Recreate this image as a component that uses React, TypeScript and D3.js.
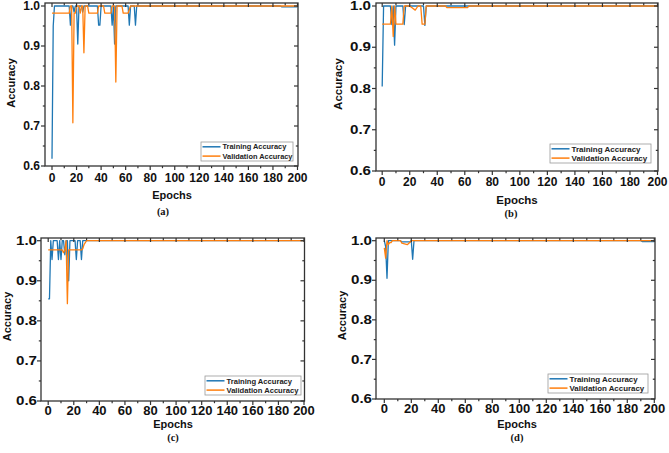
import React, { useEffect, useRef } from 'react';
import * as d3 from 'd3';

type Pt = [number, number];

// epoch / accuracy pairs (flat stretches are kept as their end points)
const trainA: Pt[] = [
  [0, 0.618], [1, 0.95], [2, 1.0], [14, 1.0], [15, 0.952], [16, 1.0], [17, 1.0], [18, 0.985],
  [19, 1.0], [20, 1.0], [21, 0.905], [22, 1.0], [24, 1.0], [25, 0.985], [26, 1.0], [37, 1.0],
  [38, 0.952], [39, 0.952], [40, 1.0], [48, 1.0], [49, 0.952], [50, 1.0], [51, 0.905], [52, 1.0],
  [62, 1.0], [63, 0.952], [64, 1.0], [67, 1.0], [68, 0.952], [69, 1.0], [186, 1.0], [187, 0.998],
  [200, 0.998],
];
const valA: Pt[] = [
  [0, 0.982], [14, 0.982], [15, 1.0], [16, 1.0], [17, 0.708], [18, 0.982], [19, 0.982], [20, 1.0],
  [22, 1.0], [23, 0.982], [24, 1.0], [25, 1.0], [26, 0.883], [27, 1.0], [29, 1.0], [30, 0.982],
  [37, 0.982], [38, 1.0], [42, 1.0], [43, 0.982], [48, 0.982], [49, 1.0], [51, 1.0], [52, 0.81],
  [53, 1.0], [57, 1.0], [58, 0.982], [62, 0.982], [64, 1.0], [200, 1.0],
];

const trainB: Pt[] = [
  [0, 0.805], [1, 1.0], [6, 1.0], [7, 0.955], [8, 1.0], [9, 0.905], [10, 1.0], [15, 1.0],
  [16, 0.955], [17, 1.0], [30, 1.0], [31, 0.953], [32, 1.0], [200, 1.0],
];
const valB: Pt[] = [
  [0, 0.956], [6, 0.956], [7, 1.0], [8, 0.926], [9, 1.0], [10, 0.956], [15, 0.956], [16, 1.0],
  [20, 1.0], [24, 0.99], [26, 1.0], [28, 1.0], [29, 0.956], [31, 0.956], [32, 1.0], [46, 1.0],
  [47, 0.996], [62, 0.996], [63, 1.0], [200, 1.0],
];

const trainC: Pt[] = [
  [0, 0.855], [1, 0.855], [2, 1.0], [3, 0.953], [4, 1.0], [7, 1.0], [8, 0.953], [9, 1.0],
  [10, 0.953], [11, 1.0], [12, 1.0], [13, 0.965], [14, 1.0], [15, 1.0], [16, 0.9], [17, 1.0],
  [21, 1.0], [22, 0.953], [23, 1.0], [25, 1.0], [26, 0.953], [27, 1.0], [200, 1.0],
];
const valC: Pt[] = [
  [0, 0.977], [11, 0.977], [12, 0.97], [13, 0.977], [14, 1.0], [15, 0.843], [16, 0.977],
  [26, 0.977], [27, 0.98], [28, 0.99], [30, 1.0], [200, 1.0],
];

const trainD: Pt[] = [
  [0, 1.0], [1, 0.985], [2, 0.905], [3, 1.0], [12, 1.0], [13, 0.997], [19, 0.997], [20, 1.0],
  [21, 0.953], [22, 1.0], [190, 1.0], [191, 0.998], [200, 0.998],
];
const valD: Pt[] = [
  [0, 0.982], [1, 0.956], [2, 1.0], [3, 0.99], [4, 0.995], [5, 0.995], [6, 1.0], [12, 1.0],
  [13, 0.994], [17, 0.99], [19, 0.996], [20, 1.0], [200, 1.0],
];

const xTicks = [0, 20, 40, 60, 80, 100, 120, 140, 160, 180, 200];
const xMinorTicks = [10, 30, 50, 70, 90, 110, 130, 150, 170, 190];
const yTicks = [0.6, 0.7, 0.8, 0.9, 1.0];
const yMinorTicks = [0.65, 0.75, 0.85, 0.95];
const seriesNames = ['Training Accuracy', 'Validation Accuracy'];
const captions = ['(a)', '(b)', '(c)', '(d)'];

const series: Pt[][][] = [
  [trainA, valA],
  [trainB, valB],
  [trainC, valC],
  [trainD, valD],
];

const colors = ['#1f77b4', '#ff7f0e'];
const sans = '"Liberation Sans", Arial, sans-serif';
const serif = '"Liberation Serif", "Times New Roman", serif';

interface Layout {
  left: number; right: number; top: number; bottom: number;
  x0: number; x200: number; y1: number;
  tickFont: number; yLabelLen: number | null; yLabelGap: number;
  xLabelY: number; titleFont: number; epochsX: number; epochsY: number;
  accX: number; accY: number; capX: number; capY: number;
  legX: number; legY: number; legW: number; legFont: number;
}

const layouts: Layout[] = [
  { left: 45, right: 298, top: 3, bottom: 166, x0: 52, x200: 297.5, y1: 6,
    tickFont: 12, yLabelLen: null, yLabelGap: 5, xLabelY: 182, titleFont: 11,
    epochsX: 172, epochsY: 199, accX: 14.5, accY: 83, capX: 163, capY: 214.5,
    legX: 201, legY: 142, legW: 92, legFont: 7.4 },
  { left: 376, right: 658, top: 3, bottom: 171, x0: 382.2, x200: 657.5, y1: 6,
    tickFont: 12, yLabelLen: 21, yLabelGap: 5, xLabelY: 186, titleFont: 11.5,
    epochsX: 517, epochsY: 204, accX: 342, accY: 84, capX: 511, capY: 216.5,
    legX: 550, legY: 144, legW: 101, legFont: 8 },
  { left: 41, right: 304.5, top: 238, bottom: 401, x0: 48.2, x200: 304, y1: 240.7,
    tickFont: 13, yLabelLen: 21, yLabelGap: 4, xLabelY: 414.5, titleFont: 11,
    epochsX: 173, epochsY: 428, accX: 10.5, accY: 316.5, capX: 173, capY: 440.5,
    legX: 205, legY: 376, legW: 96, legFont: 7.6 },
  { left: 376, right: 655, top: 238, bottom: 399, x0: 384.3, x200: 654.3, y1: 240.7,
    tickFont: 13, yLabelLen: 21, yLabelGap: 4, xLabelY: 413, titleFont: 11,
    epochsX: 517, epochsY: 428, accX: 345.5, accY: 315.5, capX: 517, capY: 441,
    legX: 548, legY: 374, legW: 100, legFont: 7.9 },
];

export default function App() {
  const svgRef = useRef<SVGSVGElement>(null);

  useEffect(() => {
    if (!svgRef.current) return;
    const svg = d3.select(svgRef.current);
    svg.selectAll('*').remove();

    layouts.forEach((p, i) => {
      const x = d3.scaleLinear().domain([0, 200]).range([p.x0, p.x200]);
      const y = d3.scaleLinear().domain([0.6, 1.0]).range([p.bottom, p.y1]);
      const g = svg.append('g');

      const clipId = `clip-${i}`;
      g.append('clipPath').attr('id', clipId)
        .append('rect')
        .attr('x', p.left).attr('y', p.top)
        .attr('width', p.right - p.left).attr('height', p.bottom - p.top);

      const line = d3.line<Pt>().x(d => x(d[0])).y(d => y(d[1]));

      // training first, validation on top
      series[i].forEach((s, k) => {
        g.append('path')
          .datum(s)
          .attr('d', line)
          .attr('fill', 'none')
          .attr('stroke', colors[k])
          .attr('stroke-width', 1.3)
          .attr('stroke-linejoin', 'round')
          .attr('clip-path', `url(#${clipId})`);
      });

      // frame
      g.append('rect')
        .attr('x', p.left).attr('y', p.top)
        .attr('width', p.right - p.left).attr('height', p.bottom - p.top)
        .attr('fill', 'none').attr('stroke', '#333').attr('stroke-width', 1.3);

      const tick = (x1: number, y1: number, x2: number, y2: number) =>
        g.append('line')
          .attr('x1', x1).attr('y1', y1).attr('x2', x2).attr('y2', y2)
          .attr('stroke', '#333').attr('stroke-width', 1.2);

      // bottom out, top in
      xTicks.forEach(t => {
        tick(x(t), p.bottom, x(t), p.bottom + 4);
        tick(x(t), p.top, x(t), p.top + 4);
      });
      xMinorTicks.forEach(t => {
        tick(x(t), p.bottom, x(t), p.bottom + 2.2);
        tick(x(t), p.top, x(t), p.top + 2.2);
      });
      // left out, right in
      yTicks.forEach(t => {
        tick(p.left - 4, y(t), p.left, y(t));
        tick(p.right - 4, y(t), p.right, y(t));
      });
      yMinorTicks.forEach(t => {
        tick(p.left - 2.2, y(t), p.left, y(t));
        tick(p.right - 2.2, y(t), p.right, y(t));
      });

      g.selectAll('.xlabel')
        .data(xTicks)
        .enter()
        .append('text')
        .attr('x', d => x(d))
        .attr('y', p.xLabelY)
        .attr('text-anchor', 'middle')
        .attr('font-family', sans)
        .attr('font-weight', 'bold')
        .attr('font-size', p.tickFont)
        .attr('fill', '#111')
        .text(d => String(d));

      const yl = g.selectAll('.ylabel')
        .data(yTicks)
        .enter()
        .append('text')
        .attr('x', p.left - p.yLabelGap)
        .attr('y', d => y(d) + 4.2)
        .attr('text-anchor', 'end')
        .attr('font-family', sans)
        .attr('font-weight', 'bold')
        .attr('font-size', p.tickFont)
        .attr('fill', '#111')
        .text(d => d3.format('.1f')(d));
      if (p.yLabelLen) {
        yl.attr('textLength', p.yLabelLen).attr('lengthAdjust', 'spacingAndGlyphs');
      }

      g.append('text')
        .attr('x', p.epochsX).attr('y', p.epochsY)
        .attr('text-anchor', 'middle')
        .attr('font-family', sans).attr('font-weight', 'bold')
        .attr('font-size', p.titleFont).attr('fill', '#111')
        .text('Epochs');

      g.append('text')
        .attr('transform', `translate(${p.accX},${p.accY}) rotate(-90)`)
        .attr('text-anchor', 'middle')
        .attr('font-family', sans).attr('font-weight', 'bold')
        .attr('font-size', p.titleFont).attr('fill', '#111')
        .text('Accuracy');

      g.append('text')
        .attr('x', p.capX).attr('y', p.capY)
        .attr('text-anchor', 'middle')
        .attr('font-family', serif).attr('font-weight', 'bold')
        .attr('font-size', 10.5).attr('fill', '#111')
        .text(captions[i]);

      // legend
      const lg = g.append('g').attr('transform', `translate(${p.legX},${p.legY})`);
      lg.append('rect')
        .attr('width', p.legW).attr('height', 19)
        .attr('fill', '#fff').attr('stroke', '#999').attr('stroke-width', 0.8);
      seriesNames.forEach((name, k) => {
        const ry = 4.8 + k * 9.3;
        lg.append('line')
          .attr('x1', 1.5).attr('x2', 19.5).attr('y1', ry).attr('y2', ry)
          .attr('stroke', colors[k]).attr('stroke-width', 1.5);
        lg.append('text')
          .attr('x', 21.5).attr('y', ry + p.legFont * 0.36)
          .attr('font-family', sans).attr('font-weight', 'bold')
          .attr('font-size', p.legFont).attr('fill', '#222')
          .text(name);
      });
    });
  }, []);

  return (
    <svg
      ref={svgRef}
      width={669}
      height={453}
      style={{ position: 'absolute', left: 0, top: 0, background: '#fff', display: 'block' }}
    />
  );
}
